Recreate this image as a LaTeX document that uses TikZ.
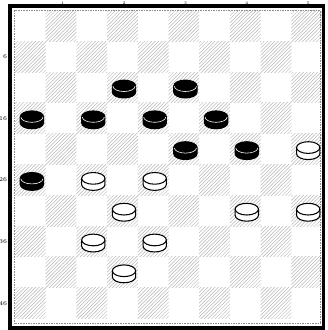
\documentclass[tikz,border=0pt]{standalone}
\usepackage{tikz}
\usetikzlibrary{patterns}
\tikzset{
    % --- Dark square of the board (hatched) ---
    dark square/.style = {
        pattern=north east lines, pattern color=black!28
    },
    % --- Board frame (thick outer line) ---
    frame outer/.style = {
        draw, line width=2.6pt
    },
    % --- Board frame (dotted inner line) ---
    frame inner/.style = {
        draw, black!45, densely dotted, thin
    },
    % --- Square number in the margin ---
    square number/.style = {
        font=\tiny, inner sep=0pt
    },
    % --- Square number above the board (very small) ---
    top number/.style = {
        font=\fontsize{3.5}{3.5}\selectfont, inner sep=0pt
    },
    % --- Outline of a disc ---
    disc/.style = {
        line width=0.9pt, line join=round
    },
    % --- Black man ---
    black man/.pic = {
        \path[disc, fill=black, draw=black] (-0.38,0) -- (-0.38,-0.2)
            arc[start angle=180, end angle=360, x radius=0.38, y radius=0.19]
            -- (0.38,0)
            arc[start angle=0, end angle=180, x radius=0.38, y radius=0.19] -- cycle;
        \draw[white, line width=0.5pt] (-0.36,-0.01)
            arc[start angle=180, end angle=360, x radius=0.36, y radius=0.17];
    },
    % --- White man ---
    white man/.pic = {
        \path[disc, fill=white, draw=black] (-0.38,0) -- (-0.38,-0.2)
            arc[start angle=180, end angle=360, x radius=0.38, y radius=0.19]
            -- (0.38,0);
        \path[disc, fill=white, draw=black] (0,0)
            ellipse[x radius=0.38, y radius=0.19];
    }
}

\begin{document}
\begin{tikzpicture}[x=0.921cm, y=0.924cm]

\useasboundingbox (-0.489,-0.373) rectangle (10.163,10.341);
\clip (-0.489,-0.373) rectangle (10.163,10.341);

% ---------------------------------------------------------
% Board squares
% ---------------------------------------------------------
\foreach \r in {0,...,9}
    \foreach \c in {0,...,9} {
        \pgfmathtruncatemacro\odd{mod(\r+\c,2)}
        \ifnum\odd=1
            \path[dark square] (\c,9-\r) rectangle ++(1,1);
        \fi
    }

% ---------------------------------------------------------
% Frame
% ---------------------------------------------------------
\path[frame outer] (-0.163,-0.308) rectangle (10.05,10.146);
\path[frame inner] (-0.016,-0.162) rectangle (9.95,10.016);

% ---------------------------------------------------------
% Square numbers in the margins
% ---------------------------------------------------------
\foreach \n [count=\i from 0] in {1,...,5}
    \node[top number, anchor=south] (top\n) at (2*\i+1.55, 10.2) {\n};
\foreach \n [count=\i from 0] in {6,16,26,36,46}
    \node[square number, anchor=east] (left\n) at (-0.25, 8.5-2*\i) {\n};

% ---------------------------------------------------------
% Black men
% ---------------------------------------------------------
\foreach \r/\c in {2/3, 2/5, 3/0, 3/2, 3/4, 3/6, 4/5, 4/7, 5/0}
    \pic (b\r\c) at (\c+0.55, 9.55-\r) {black man};

% ---------------------------------------------------------
% White men
% ---------------------------------------------------------
\foreach \r/\c in {4/9, 5/2, 5/4, 6/3, 6/7, 6/9, 7/2, 7/4, 8/3}
    \pic (w\r\c) at (\c+0.55, 9.55-\r) {white man};

\end{tikzpicture}
\end{document}
